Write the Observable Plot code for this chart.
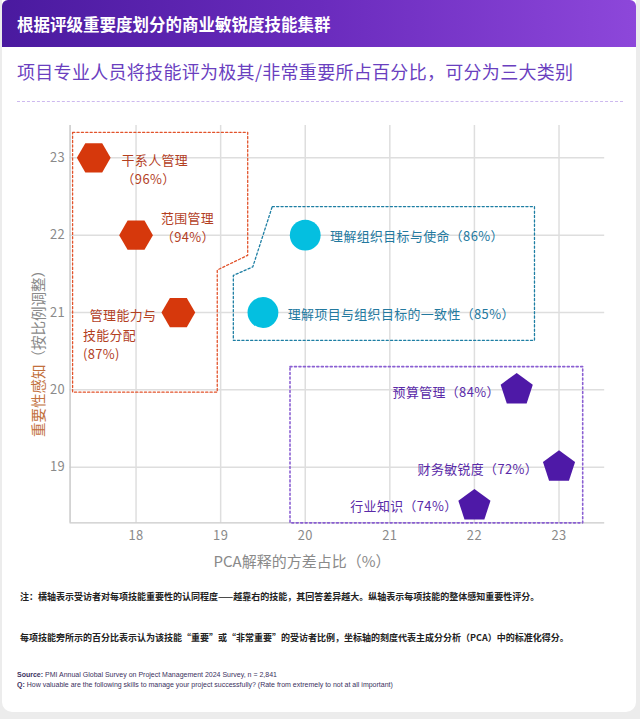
<!DOCTYPE html>
<html><head><meta charset="utf-8">
<script src="https://cdn.jsdelivr.net/npm/d3@7"></script>
<script src="https://cdn.jsdelivr.net/npm/@observablehq/plot@0.6"></script>
<style>
html,body{margin:0;padding:0;background:#ececec;}
body{width:640px;height:719px;overflow:hidden;font-family:"Noto Sans CJK SC","Noto Sans",sans-serif;}
#card{position:absolute;left:2px;top:0;width:634px;height:712px;background:#fff;border-radius:0 0 10px 10px;overflow:hidden;}
#title{position:absolute;left:0;top:0;width:634px;height:47px;background:linear-gradient(90deg,#4a1a9f 0%,#6a2bbd 50%,#8d47da 100%);color:#fff;font-weight:700;font-size:16.5px;line-height:48px;padding-left:15px;box-sizing:border-box;border-radius:6px 6px 0 0;}
#subtitle{position:absolute;left:15px;top:58px;font-size:18px;color:#6a3fbf;white-space:nowrap;letter-spacing:0.3px;}
#sep{position:absolute;left:15px;top:101px;width:606px;border-top:1.5px dashed #cdb9ef;}
#chart{position:absolute;left:-2px;top:105px;}
#ylab{position:absolute;left:35px;top:350px;transform:translate(-50%,-50%) rotate(-90deg);white-space:nowrap;font-size:14.5px;color:#8a8a8a;}
#ylab span{color:#c2703c;}
#xlab{position:absolute;left:300px;top:560px;transform:translate(-50%,-50%);white-space:nowrap;font-size:15px;color:#8a8a8a;}
.note{position:absolute;left:18px;font-size:9px;color:#222;white-space:nowrap;font-weight:600;}
.src{position:absolute;left:15px;font-size:7px;color:#3b3160;white-space:nowrap;font-family:"Liberation Sans",sans-serif;}
svg text{letter-spacing:0.4px;}
</style></head>
<body>
<div id="card">
  <div id="title">根据评级重要度划分的商业敏锐度技能集群</div>
  <div id="subtitle">项目专业人员将技能评为极其/非常重要所占百分比，可分为三大类别</div>
  <div id="sep"></div>
  <div id="chart"></div>
  <div id="ylab"><span>重要性感知</span>（按比例调整）</div>
  <div id="xlab">PCA解释的方差占比（%）</div>
  <div class="note" style="top:590px;">注：横轴表示受访者对每项技能重要性的认同程度——越靠右的技能，其回答差异越大。纵轴表示每项技能的整体感知重要性评分。</div>
  <div class="note" style="top:631px;">每项技能旁所示的百分比表示认为该技能“重要”或“非常重要”的受访者比例，坐标轴的刻度代表主成分分析（PCA）中的标准化得分。</div>
  <div class="src" style="top:671px;"><b>Source:</b> PMI Annual Global Survey on Project Management 2024 Survey, n = 2,841</div>
  <div class="src" style="top:681px;"><b>Q:</b> How valuable are the following skills to manage your project successfully? (Rate from extremely to not at all important)</div>
</div>
<script>
// ---- data ----
const skills = ["干系人管理","范围管理","管理能力与技能分配","理解组织目标与使命","理解项目与组织目标的一致性","预算管理","财务敏锐度","行业知识"];
const pcaVariance = [17.5, 18, 18.5, 20, 19.5, 22.5, 23, 22];
const importance = [23, 22, 21, 22, 21, 20, 19, 18.5];
const percentImportant = [96, 94, 87, 86, 85, 84, 72, 74];
const clusters = ["red","red","red","blue","blue","purple","purple","purple"];
const xTicks = [18, 19, 20, 21, 22, 23];
const yTicks = [19, 20, 21, 22, 23];
// cluster outlines (data coordinates)
const redOutlineX = [17.25, 19.32, 19.32, 18.96, 18.96, 17.25, 17.25];
const redOutlineY = [23.33, 23.33, 21.74, 21.55, 19.97, 19.97, 23.33];
const blueOutlineX = [19.61, 22.71, 22.71, 19.15, 19.15, 19.38, 19.61];
const blueOutlineY = [22.37, 22.37, 20.64, 20.64, 21.48, 21.59, 22.37];
const purpleOutlineX = [19.82, 23.28, 23.28, 19.82, 19.82];
const purpleOutlineY = [20.30, 20.30, 18.28, 18.28, 20.30];

// ---- build ----
const data = skills.map((s, i) => ({skill: s, x: pcaVariance[i], y: importance[i], pct: percentImportant[i], cluster: clusters[i]}));
const outline = (xs, ys) => xs.map((x, i) => ({x, y: ys[i]}));

const fill = {red: "#d6380c", blue: "#04bfe0", purple: "#4e19a7"};
const textColor = {red: "#b3401f", blue: "#23799f", purple: "#5a2aa8"};

const hexagon = {draw(ctx, size) {
  const r = Math.sqrt(size / Math.PI);
  for (let i = 0; i < 6; i++) { const a = i * Math.PI / 3; const px = r * Math.cos(a), py = r * Math.sin(a); i ? ctx.lineTo(px, py) : ctx.moveTo(px, py); }
  ctx.closePath();
}};
const pentagon = {draw(ctx, size) {
  const r = Math.sqrt(size / Math.PI);
  for (let i = 0; i < 5; i++) { const a = -Math.PI / 2 + i * 2 * Math.PI / 5; const px = r * Math.cos(a), py = r * Math.sin(a); i ? ctx.lineTo(px, py) : ctx.moveTo(px, py); }
  ctx.closePath();
}};

function labelText(d) {
  if (d.skill === "干系人管理") return "干系人管理\n（" + d.pct + "%）";
  if (d.skill === "范围管理") return "范围管理\n（" + d.pct + "%）";
  if (d.skill === "管理能力与技能分配") return "\u2002管理能力与\n技能分配\n(" + d.pct + "%)";
  return d.skill + "（" + d.pct + "%）";
}
const labelPlacement = {
  "干系人管理": {dx: 28, dy: 11, textAnchor: "start"},
  "范围管理": {dx: 25, dy: -9, textAnchor: "start"},
  "管理能力与技能分配": {dx: -96, dy: 21, textAnchor: "start"},
  "理解组织目标与使命": {dx: 25, dy: 0, textAnchor: "start"},
  "理解项目与组织目标的一致性": {dx: 25, dy: 0, textAnchor: "start"},
  "预算管理": {dx: -17, dy: 1, textAnchor: "end"},
  "财务敏锐度": {dx: -21, dy: 1, textAnchor: "end"},
  "行业知识": {dx: -17, dy: -1, textAnchor: "end"}
};

const textMarks = data.map(d => Plot.text([d], {
  x: "x", y: "y", text: labelText, fill: textColor[d.cluster],
  fontSize: 13, lineHeight: 1.48, lineAnchor: "middle",
  ...labelPlacement[d.skill]
}));

const chart = Plot.plot({
  width: 640, height: 470,
  marginLeft: 70, marginRight: 32, marginTop: 20, marginBottom: 50,
  style: {fontFamily: "'Noto Sans CJK SC', sans-serif", fontSize: "13px", background: "transparent", overflow: "visible"},
  x: {domain: [17.22, 23.54], ticks: xTicks},
  y: {domain: [18.28, 23.42], ticks: yTicks},
  marks: [
    Plot.gridX(xTicks, {stroke: "#dedede", strokeOpacity: 1, strokeWidth: 1.5}),
    Plot.gridY(yTicks, {stroke: "#dedede", strokeOpacity: 1, strokeWidth: 1.5}),
    Plot.ruleX([17.22], {stroke: "#c9c9c9", strokeWidth: 1.5}),
    Plot.ruleY([18.28], {stroke: "#c9c9c9", strokeWidth: 1.5}),
    Plot.axisX({ticks: xTicks, tickFormat: d3.format("d"), tickSize: 0, tickPadding: 8, label: null, color: "#8a8a8a", fontSize: 13}),
    Plot.axisY({ticks: yTicks, tickFormat: d3.format("d"), tickSize: 0, tickPadding: 5, label: null, color: "#8a8a8a", fontSize: 13}),
    Plot.line(outline(redOutlineX, redOutlineY), {x: "x", y: "y", stroke: "#e2532b", strokeWidth: 1.3, strokeDasharray: "2.2,2.2", strokeLinejoin: "round"}),
    Plot.line(outline(blueOutlineX, blueOutlineY), {x: "x", y: "y", stroke: "#1d7ea3", strokeWidth: 1.3, strokeDasharray: "2.2,2.2", strokeLinejoin: "round"}),
    Plot.line(outline(purpleOutlineX, purpleOutlineY), {x: "x", y: "y", stroke: "#8a5fd2", strokeWidth: 1.6, strokeDasharray: "2,2.5", strokeLinejoin: "round"}),
    Plot.dot(data.filter(d => d.cluster === "red"), {x: "x", y: "y", r: 17, symbol: hexagon, fill: fill.red, stroke: "none"}),
    Plot.dot(data.filter(d => d.cluster === "blue"), {x: "x", y: "y", r: 15.5, symbol: "circle", fill: fill.blue, stroke: "none"}),
    Plot.dot(data.filter(d => d.cluster === "purple"), {x: "x", y: "y", r: 17, symbol: pentagon, fill: fill.purple, stroke: "none"}),
    ...textMarks
  ]
});
document.getElementById("chart").appendChild(chart);
</script>
</body></html>
